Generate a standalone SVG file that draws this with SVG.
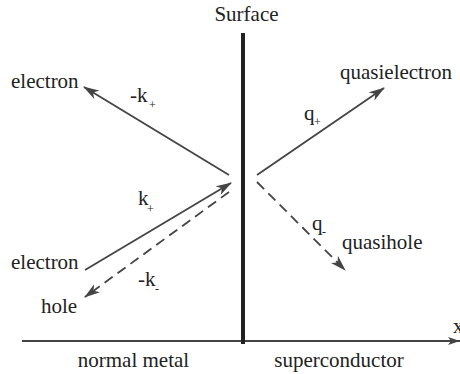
<svg xmlns="http://www.w3.org/2000/svg" width="460" height="374" viewBox="0 0 460 374">
<style>
text{font-family:"Liberation Serif","Times New Roman",serif;fill:#222;font-size:21px}
.sub{font-size:12px}
.c{stroke:#444;stroke-width:1.8;fill:none}
.d{stroke-dasharray:10,6}
</style>
<defs>
<marker id="ah" markerUnits="userSpaceOnUse" viewBox="0 0 16 10" refX="15" refY="5" markerWidth="16" markerHeight="10" orient="auto">
<path d="M0,0 L16,5 L0,10 L4.5,5 z" fill="#444"/>
</marker>
<marker id="ax" markerUnits="userSpaceOnUse" viewBox="0 0 12 8" refX="12" refY="4" markerWidth="12" markerHeight="8" orient="auto">
<path d="M0,0 L12,4 L0,8 L3,4 z" fill="#444"/>
</marker>
</defs>
<rect width="460" height="374" fill="#fff"/>
<g id="axis">
<line x1="22" y1="341" x2="460" y2="341" class="c" stroke-width="1.5" marker-end="url(#ax)"/>
<text x="453" y="333">x</text>
</g>
<g id="surface">
<line x1="243" y1="33" x2="243" y2="344" stroke="#222" stroke-width="4"/>
<text x="246.5" y="21" text-anchor="middle">Surface</text>
</g>
<g id="connectors">
<line x1="229" y1="175" x2="84" y2="87" class="c" marker-end="url(#ah)"/>
<line x1="85" y1="270" x2="231" y2="183" class="c" marker-end="url(#ah)"/>
<line x1="229" y1="192" x2="85" y2="297" class="c d" marker-end="url(#ah)"/>
<line x1="257" y1="175" x2="384" y2="88" class="c" marker-end="url(#ah)"/>
<line x1="257" y1="182" x2="345" y2="270" class="c d" marker-end="url(#ah)"/>
</g>
<g id="label-electron-reflected">
<text x="11" y="88">electron</text>
<text x="130" y="102">-k</text><text class="sub" x="149" y="109">+</text>
</g>
<g id="label-electron-incident">
<text x="11" y="269">electron</text>
<text x="138" y="205">k</text><text class="sub" x="147" y="213">+</text>
</g>
<g id="label-hole">
<text x="41" y="313">hole</text>
<text x="138" y="286">-k</text><text class="sub" x="155" y="293">-</text>
</g>
<g id="label-quasielectron">
<text x="340" y="79">quasielectron</text>
<text x="304" y="120">q</text><text class="sub" x="314" y="126">+</text>
</g>
<g id="label-quasihole">
<text x="342" y="249">quasihole</text>
<text x="312" y="230">q</text><text class="sub" x="322" y="236">-</text>
</g>
<g id="regions">
<text x="133.5" y="367" text-anchor="middle">normal metal</text>
<text x="339" y="367" text-anchor="middle">superconductor</text>
</g>
</svg>
